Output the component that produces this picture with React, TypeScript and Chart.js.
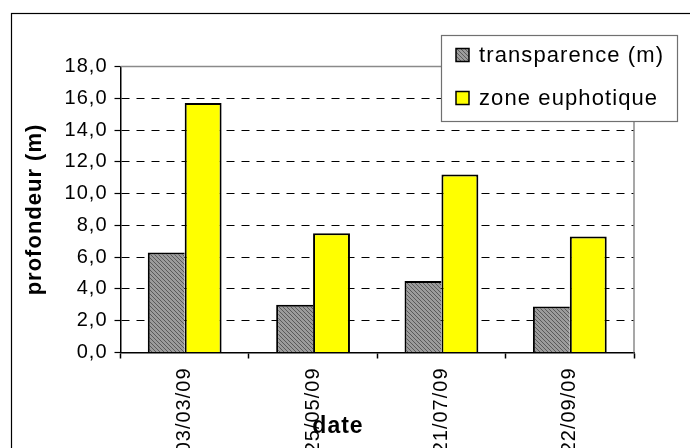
import React, { useEffect, useRef } from 'react';
import { Chart, registerables } from 'chart.js';

Chart.register(...registerables);

const categories = ['03/03/09', '25/05/09', '21/07/09', '22/09/09'];
const transparence = [6.3, 3.0, 4.5, 2.9];
const zoneEuphotique = [15.7, 7.5, 11.2, 7.3];
const seriesLabels = ['transparence (m)', 'zone euphotique'];
const yMin = 0;
const yMax = 18;
const yStep = 2;
const yTitle = 'profondeur (m)';
const xTitle = 'date';

const FONT = '"Liberation Sans", Arial, sans-serif';

function makeHatch(ctx: CanvasRenderingContext2D) {
  const c = document.createElement('canvas');
  c.width = 4;
  c.height = 4;
  const g = c.getContext('2d')!;
  g.fillStyle = '#9c9c9c';
  g.fillRect(0, 0, 4, 4);
  g.fillStyle = '#5a5a5a';
  for (let i = 0; i < 4; i++) g.fillRect(i, i, 1, 1);
  return ctx.createPattern(c, 'repeat')!;
}

const spacingPlugin = {
  id: 'spacing',
  beforeLayout(chart: any) {
    chart.ctx.letterSpacing = '1px';
  },
  beforeDraw(chart: any) {
    chart.ctx.letterSpacing = '1px';
  },
};

const decorPlugin = {
  id: 'decor',
  afterDraw(chart: any) {
    const ctx: CanvasRenderingContext2D = chart.ctx;
    const { left, right, top, bottom } = chart.chartArea;
    ctx.save();
    // outer frame
    ctx.strokeStyle = '#000';
    ctx.lineWidth = 1.2;
    ctx.strokeRect(11.5, 13.5, 800, 600);
    // plot top & right border (gray)
    ctx.strokeStyle = '#8a8a8a';
    ctx.lineWidth = 1.5;
    ctx.beginPath();
    ctx.moveTo(left, top);
    ctx.lineTo(right, top);
    ctx.lineTo(right, bottom);
    ctx.stroke();

    // x axis title
    ctx.fillStyle = '#000';
    ctx.font = 'bold 23px ' + FONT;
    (ctx as any).letterSpacing = '1px';
    ctx.textAlign = 'center';
    ctx.textBaseline = 'alphabetic';
    ctx.fillText(xTitle, 338, 433);

    // legend
    const lx = 441.5, ly = 35.5, lw = 236, lh = 86;
    ctx.fillStyle = '#fff';
    ctx.fillRect(lx, ly, lw, lh);
    ctx.strokeStyle = '#707070';
    ctx.lineWidth = 1.2;
    ctx.strokeRect(lx, ly, lw, lh);
    const rows = [55, 98];
    chart.data.datasets.forEach((ds: any, i: number) => {
      const cy = rows[i];
      ctx.fillStyle = ds.backgroundColor;
      ctx.fillRect(456, cy - 6.5, 13, 13);
      ctx.strokeStyle = '#000';
      ctx.lineWidth = 1.5;
      ctx.strokeRect(456, cy - 6.5, 13, 13);
      ctx.fillStyle = '#000';
      ctx.font = '22px ' + FONT;
      (ctx as any).letterSpacing = '1.1px';
      ctx.textAlign = 'left';
      ctx.textBaseline = 'middle';
      ctx.fillText(ds.label, 479, cy + 1);
    });
    ctx.restore();
  },
};

export default function App() {
  const ref = useRef<HTMLCanvasElement>(null);
  useEffect(() => {
    const canvas = ref.current!;
    const ctx = canvas.getContext('2d')!;
    const hatch = makeHatch(ctx);
    Chart.defaults.font.family = FONT;
    Chart.defaults.color = '#000';
    const chart = new Chart(canvas, {
      type: 'bar',
      data: {
        labels: categories,
        datasets: [
          {
            label: seriesLabels[0],
            data: transparence,
            backgroundColor: hatch as any,
            borderColor: '#000',
            borderWidth: { top: 2, left: 2, right: 0, bottom: 0 } as any,
            categoryPercentage: 0.575,
            barPercentage: 1,
          },
          {
            label: seriesLabels[1],
            data: zoneEuphotique,
            backgroundColor: '#ffff00',
            borderColor: '#000',
            borderWidth: { top: 2, left: 2, right: 2, bottom: 0 } as any,
            categoryPercentage: 0.575,
            barPercentage: 1,
          },
        ],
      },
      options: {
        responsive: false,
        animation: false,
        layout: { padding: { top: 66.5, left: 0, right: 56, bottom: 0 } },
        plugins: {
          legend: { display: false },
          title: { display: false },
          tooltip: { enabled: false },
        },
        scales: {
          x: {
            afterFit: (s: any) => {
              s.height = 95.5;
            },
            grid: {
              drawOnChartArea: false,
              drawTicks: true,
              tickLength: 6,
              tickColor: '#000',
              tickWidth: 1.5,
              offset: true,
            },
            border: { display: true, color: '#000', width: 1.5 },
            ticks: {
              autoSkip: false,
              minRotation: 90,
              maxRotation: 90,
              padding: 9,
              font: { size: 20 },
              color: '#000',
            },
          },
          y: {
            min: yMin,
            max: yMax,
            afterFit: (s: any) => {
              s.width = 120.5;
            },
            grid: {
              color: (c: any) =>
                c.tick && (c.tick.value === yMin || c.tick.value === yMax)
                  ? 'rgba(0,0,0,0)'
                  : '#000',
              lineWidth: 1,
              drawTicks: true,
              tickLength: 6,
              tickColor: '#000',
              tickWidth: 1.2,
            },
            border: { display: true, color: '#000', width: 1.5, dash: [8, 7] },
            ticks: {
              stepSize: yStep,
              padding: 7,
              font: { size: 20 },
              color: '#000',
              callback: (v: any) => Number(v).toFixed(1).replace('.', ','),
            },
            title: {
              display: true,
              text: yTitle,
              font: { size: 22, weight: 'bold' },
              color: '#000',
              padding: { top: 22, bottom: 0 },
            },
          },
        },
      },
      plugins: [spacingPlugin, decorPlugin],
    });
    return () => chart.destroy();
  }, []);
  return (
    <div style={{ position: 'absolute', left: 0, top: 0, width: 690, height: 448, background: '#fff', overflow: 'hidden' }}>
      <canvas ref={ref} width={690} height={448} style={{ display: 'block', width: 690, height: 448 }} />
    </div>
  );
}
